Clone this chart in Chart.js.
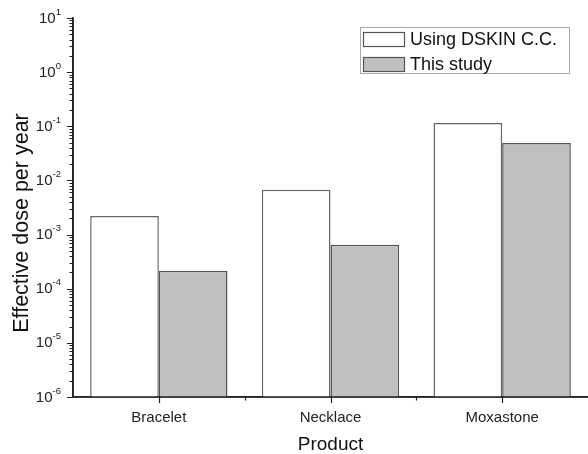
<!DOCTYPE html>
<html>
<head>
<meta charset="utf-8">
<script src="https://cdn.jsdelivr.net/npm/chart.js@4.4.1/dist/chart.umd.min.js"></script>
<style>
  body { margin: 0; background: #fff; }
</style>
</head>
<body>
<canvas id="doseChart" width="588" height="454"></canvas>
<script>
const products = ['Bracelet', 'Necklace', 'Moxastone'];
const dskinDose = [2.2e-3, 6.7e-3, 0.115];
const studyDose = [2.15e-4, 6.5e-4, 0.049];
const seriesNames = ['Using DSKIN C.C.', 'This study'];
const yTitle = 'Effective dose per year';
const yTickValues = [1e1, 1e0, 1e-1, 1e-2, 1e-3, 1e-4, 1e-5, 1e-6];
const yTickExponents = ['1', '0', '-1', '-2', '-3', '-4', '-5', '-6'];

const FONT = "'Liberation Sans', Arial, sans-serif";
Chart.defaults.font.family = FONT;

// axis lines on top of bars, tick marks, superscript tick labels, y title and the boxed legend
const decor = {
    id: 'decor',
    afterDraw(chart) {
        const { ctx, chartArea, scales: { x, y } } = chart;
        const ax = chartArea.left;
        const by = chartArea.bottom;
        ctx.save();

        ctx.strokeStyle = '#222';
        ctx.lineWidth = 1.6;
        ctx.beginPath();
        ctx.moveTo(ax, chartArea.top);
        ctx.lineTo(ax, by);
        ctx.lineTo(chartArea.right, by);
        ctx.stroke();

        ctx.lineWidth = 1.2;
        ctx.beginPath();
        yTickValues.forEach((v) => {
            const py = Math.round(y.getPixelForValue(v)) + 0.5;
            ctx.moveTo(ax - 6, py);
            ctx.lineTo(ax, py);
            if (v < 10) {
                for (let k = 2; k <= 9; k++) {
                    const my = Math.round(y.getPixelForValue(v * k)) + 0.5;
                    ctx.moveTo(ax - 3.5, my);
                    ctx.lineTo(ax, my);
                }
            }
        });
        products.forEach((p, i) => {
            const px = Math.round(x.getPixelForValue(i)) + 0.5;
            ctx.moveTo(px, by);
            ctx.lineTo(px, by + 6);
            if (i > 0) {
                const bx = Math.round((x.getPixelForValue(i) + x.getPixelForValue(i - 1)) / 2) + 0.5;
                ctx.moveTo(bx, by);
                ctx.lineTo(bx, by + 3.5);
            }
        });
        ctx.stroke();

        // y labels 10^n
        ctx.fillStyle = '#222';
        ctx.textBaseline = 'middle';
        yTickValues.forEach((v, i) => {
            const py = y.getPixelForValue(v);
            ctx.font = '9.5px ' + FONT;
            const ew = ctx.measureText(yTickExponents[i]).width;
            const right = 61;
            ctx.textAlign = 'left';
            ctx.fillText(yTickExponents[i], right - ew, py - 6);
            ctx.font = '15px ' + FONT;
            ctx.textAlign = 'right';
            ctx.fillText('10', right - ew, py + 0.5);
        });

        // y title
        ctx.save();
        ctx.translate(22, 223);
        ctx.rotate(-Math.PI / 2);
        ctx.fillStyle = '#111';
        ctx.font = '21.5px ' + FONT;
        ctx.textAlign = 'center';
        ctx.textBaseline = 'middle';
        ctx.fillText(yTitle, 0, 0);
        ctx.restore();

        // legend
        ctx.strokeStyle = '#aaa';
        ctx.lineWidth = 1;
        ctx.strokeRect(360.5, 27.5, 209, 46);
        chart.data.datasets.forEach((ds, i) => {
            const top = 32 + i * 25;
            ctx.fillStyle = ds.backgroundColor;
            ctx.fillRect(363, top, 42, 15);
            ctx.strokeStyle = '#555';
            ctx.lineWidth = 1.2;
            ctx.strokeRect(363.5, top + 0.5, 41, 14);
            ctx.fillStyle = '#111';
            ctx.font = '18px ' + FONT;
            ctx.textAlign = 'left';
            ctx.textBaseline = 'middle';
            ctx.fillText(ds.label, 410, top + 8);
        });
        ctx.restore();
    }
};

const ctx = document.getElementById('doseChart').getContext('2d');

const config = {
    type: 'bar',
    data: {
        labels: products,
        datasets: [
            {
                label: seriesNames[0],
                data: dskinDose,
                backgroundColor: '#ffffff',
                borderColor: '#666',
                borderWidth: 1.5,
                barPercentage: 1.0,
                categoryPercentage: 0.8
            },
            {
                label: seriesNames[1],
                data: studyDose,
                backgroundColor: '#c0c0c0',
                borderColor: '#555',
                borderWidth: 1.5,
                barPercentage: 1.0,
                categoryPercentage: 0.8
            }
        ]
    },
    options: {
        responsive: false,
        animation: false,
        devicePixelRatio: 1,
        layout: { padding: { top: 18, right: 0, left: 0, bottom: 0 } },
        plugins: {
            legend: { display: false },
            tooltip: { enabled: false }
        },
        scales: {
            x: {
                type: 'category',
                offset: true,
                grid: { display: false },
                border: { display: true, color: '#222', width: 1.5 },
                ticks: { color: '#222', font: { size: 15 }, padding: 4, maxRotation: 0 },
                title: {
                    display: true,
                    text: 'Product',
                    color: '#111',
                    font: { size: 19 },
                    padding: { top: 0, bottom: -2 }
                },
                afterFit: (scale) => { scale.height = 57; }
            },
            y: {
                type: 'logarithmic',
                min: 1e-6,
                max: 10,
                grid: { display: false },
                border: { display: true, color: '#222', width: 1.5 },
                ticks: { display: false },
                afterFit: (scale) => { scale.width = 73; }
            }
        }
    },
    plugins: [decor]
};

const doseChart = new Chart(ctx, config);
</script>
</body>
</html>
